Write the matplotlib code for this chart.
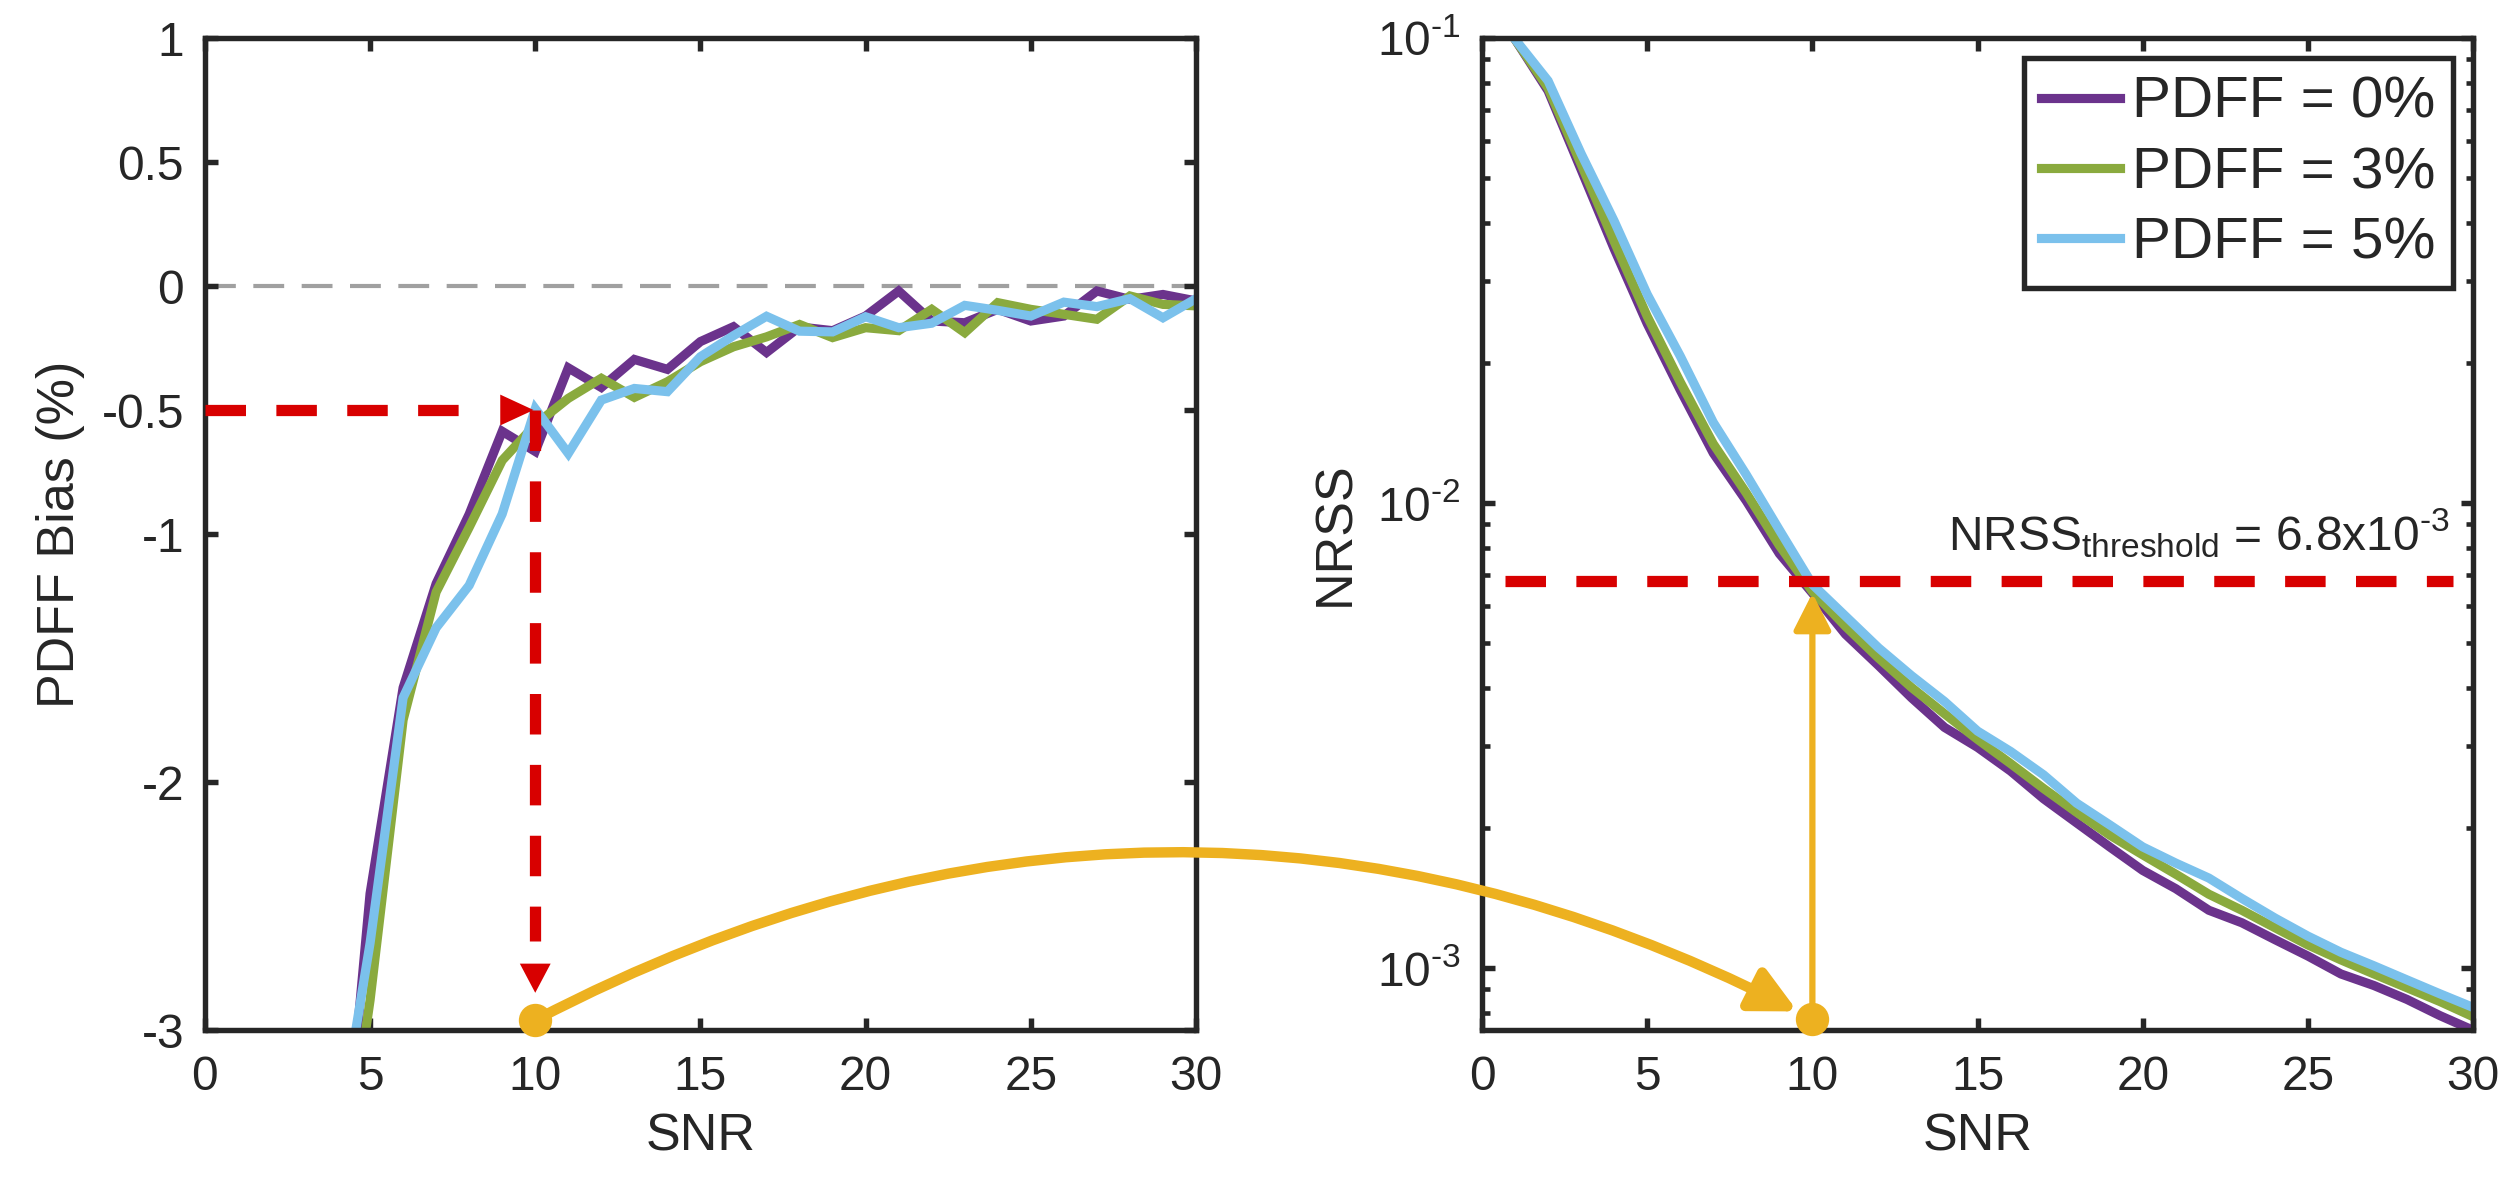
import numpy as np
import matplotlib
matplotlib.use('Agg')
import matplotlib.pyplot as plt
from matplotlib.patches import ConnectionPatch
from matplotlib.ticker import LogLocator, FixedLocator, NullFormatter, FuncFormatter

plt.rcParams['font.family'] = ['Liberation Sans', 'DejaVu Sans']
plt.rcParams['mathtext.fontset'] = 'custom'
plt.rcParams['mathtext.rm'] = 'Liberation Sans'
plt.rcParams['mathtext.it'] = 'Liberation Sans:italic'
plt.rcParams['mathtext.bf'] = 'Liberation Sans:bold'
plt.rcParams['axes.unicode_minus'] = False

dark = '#262626'
plt.rcParams['text.color'] = dark
plt.rcParams['axes.labelcolor'] = dark

# ---- data ----
snr_bias = list(range(4, 31))
bias_0 = [-3.9, -2.45, -1.62, -1.2, -0.92, -0.586, -0.667, -0.33, -0.409, -0.296,
          -0.336, -0.224, -0.164, -0.268, -0.165, -0.18, -0.121, -0.02, -0.141,
          -0.148, -0.094, -0.141, -0.121, -0.02, -0.054, -0.034, -0.06]
bias_3 = [-3.8, -2.88, -1.75, -1.234, -0.973, -0.703, -0.559, -0.453, -0.372, -0.449,
          -0.386, -0.305, -0.245, -0.205, -0.155, -0.208, -0.168, -0.18, -0.094,
          -0.188, -0.067, -0.094, -0.114, -0.134, -0.04, -0.074, -0.08]
bias_5 = [-3.46, -2.65, -1.66, -1.378, -1.207, -0.919, -0.495, -0.675, -0.46, -0.413,
          -0.426, -0.285, -0.2, -0.122, -0.182, -0.185, -0.124, -0.168, -0.15,
          -0.078, -0.098, -0.121, -0.065, -0.083, -0.051, -0.128, -0.051]

snr_nrss = list(range(1, 31))
nrss_0 = [0.0994, 0.077, 0.0521, 0.0352, 0.0243, 0.0175, 0.0128, 0.0101, 0.00778, 0.0064,
          0.00522, 0.00447, 0.00381, 0.00329, 0.00298, 0.00265, 0.00231, 0.00205, 0.00182,
          0.00162, 0.00148, 0.00133, 0.00125, 0.00115, 0.00106, 0.00097, 0.000916,
          0.000855, 0.000789, 0.000734]
nrss_3 = [0.0994, 0.078, 0.0535, 0.0365, 0.0252, 0.0182, 0.0134, 0.0105, 0.0081, 0.00645,
          0.00543, 0.00464, 0.00401, 0.00352, 0.0031, 0.00275, 0.00243, 0.00216, 0.00193,
          0.00175, 0.00159, 0.00144, 0.00133, 0.00122, 0.00112, 0.00104, 0.00097,
          0.000906, 0.000846, 0.000785]
nrss_5 = [0.0994, 0.0809, 0.0564, 0.0404, 0.0281, 0.0207, 0.0149, 0.0115, 0.00875, 0.00668,
          0.00571, 0.00488, 0.00425, 0.00374, 0.00323, 0.00292, 0.0026, 0.00226, 0.00203,
          0.00182, 0.00168, 0.00156, 0.00141, 0.00128, 0.00117, 0.00108, 0.00101,
          0.000942, 0.000879, 0.000822]

series_labels = ['PDFF = 0%', 'PDFF = 3%', 'PDFF = 5%']
series_colors = ['#6B338C', '#8AAA3E', '#7BC1EC']

snr_ticks = [0, 5, 10, 15, 20, 25, 30]
bias_ticks = [-3, -2, -1, -0.5, 0, 0.5, 1]
bias_ticklabels = ['-3', '-2', '-1', '-0.5', '0', '0.5', '1']
nrss_ticks = [1e-3, 1e-2, 1e-1]

snr_pick = 10
bias_limit = -0.5
nrss_threshold = 6.8e-3

red = '#D80000'
yellow = '#EDB120'
HYPH = '\u2010'  # short hyphen, as in the original superscripts

# ---- figure ----
fig = plt.figure(figsize=(8.4, 3.95), dpi=300)
ax1 = fig.add_axes([0.0813, 0.1308, 0.3933, 0.8371])
ax2 = fig.add_axes([0.5881, 0.1308, 0.3933, 0.8371])


def style_axes(ax):
    for sp in ax.spines.values():
        sp.set_linewidth(1.3)
        sp.set_color(dark)
    ax.tick_params(which='major', direction='in', top=True, right=True,
                   length=3.0, width=1.3, colors=dark, labelsize=11.5, pad=5)
    ax.tick_params(which='minor', direction='in', top=False, right=True,
                   length=1.8, width=1.1, colors=dark)
    ax.tick_params(axis='x', which='major', pad=6)


# left: PDFF bias
ax1.plot([0, 30], [0, 0], color='#A0A0A0', lw=1.0, dashes=(7.4, 4.2), zorder=1)
for vals, c, lab in zip([bias_0, bias_3, bias_5], series_colors, series_labels):
    ax1.plot(snr_bias, vals, color=c, lw=2.2, label=lab, solid_joinstyle='miter')
ax1.set_xlim(0, 30)
ax1.set_ylim(-3, 1)
ax1.set_xticks(snr_ticks)
ax1.yaxis.set_major_locator(FixedLocator(bias_ticks))
ax1.set_yticklabels(bias_ticklabels)
ax1.set_xlabel('SNR', fontsize=12.5, labelpad=3)
ax1.set_ylabel('PDFF Bias (%)', fontsize=12.5, labelpad=4)
style_axes(ax1)

# red dashed guides with arrowheads
ax1.plot([0, 8.4], [bias_limit, bias_limit], color=red, lw=2.7,
         dashes=(3.6, 2.7), dash_capstyle='butt', zorder=4)
ax1.annotate('', xy=(snr_pick - 0.05, bias_limit), xytext=(snr_pick - 1.1, bias_limit),
             arrowprops=dict(arrowstyle='-|>,head_length=0.8,head_width=0.37',
                             mutation_scale=10, fc=red, ec=red, lw=0,
                             shrinkA=0, shrinkB=0), zorder=4)
ax1.plot([snr_pick, snr_pick], [bias_limit, -2.64], color=red, lw=2.7,
         dashes=(3.6, 2.7), dash_capstyle='butt', zorder=4)
ax1.annotate('', xy=(snr_pick, -2.85), xytext=(snr_pick, -2.6),
             arrowprops=dict(arrowstyle='-|>,head_length=0.7,head_width=0.37',
                             mutation_scale=10, fc=red, ec=red, lw=0,
                             shrinkA=0, shrinkB=0), zorder=4)
ax1.plot(snr_pick, -2.96, 'o', ms=7, color=yellow, clip_on=False, zorder=6)

# right: NRSS
for vals, c, lab in zip([nrss_0, nrss_3, nrss_5], series_colors, series_labels):
    ax2.plot(snr_nrss, vals, color=c, lw=2.2, label=lab, solid_joinstyle='miter')
ax2.set_yscale('log')
ax2.set_xlim(0, 30)
ax2.set_ylim(7.35e-4, 0.1)
ax2.set_xticks(snr_ticks)
ax2.yaxis.set_major_locator(FixedLocator(nrss_ticks))
ax2.yaxis.set_major_formatter(FuncFormatter(
    lambda v, pos: r'$10^{%s%d}$' % (HYPH, abs(int(round(np.log10(v)))))))
ax2.yaxis.set_minor_locator(LogLocator(base=10, subs=np.arange(2, 10)))
ax2.yaxis.set_minor_formatter(NullFormatter())
ax2.set_xlabel('SNR', fontsize=12.5, labelpad=3)
ax2.set_ylabel('NRSS', fontsize=12.5, labelpad=4)
style_axes(ax2)

ax2.plot([0.7, 29.4], [nrss_threshold, nrss_threshold], color=red, lw=2.7,
         dashes=(3.6, 2.7), dash_capstyle='butt', zorder=4)
ax2.text(29.3, 7.9e-3, r'NRSS$_{\mathrm{threshold}}$ = 6.8x10$^{%s3}$' % HYPH,
         ha='right', va='baseline', fontsize=11.5)

ax2.annotate('', xy=(snr_pick, 6.4e-3), xytext=(snr_pick, 7.76e-4),
             arrowprops=dict(arrowstyle='-|>,head_length=0.75,head_width=0.38',
                             mutation_scale=10, color=yellow, lw=1.5,
                             shrinkA=0, shrinkB=0), zorder=5)
ax2.plot(snr_pick, 7.76e-4, 'o', ms=7, color=yellow, clip_on=False, zorder=6)

leg = ax2.legend(loc='upper right', fontsize=14, frameon=True, fancybox=False,
                 edgecolor=dark, framealpha=1, handlelength=1.35, handletextpad=0.2,
                 borderaxespad=0.35, labelspacing=0.28, borderpad=0.3)
leg.get_frame().set_linewidth(1.3)

# yellow arc linking the two panels
con = ConnectionPatch(xyA=(snr_pick, -2.96), coordsA=ax1.transData,
                      xyB=(snr_pick, 7.76e-4), coordsB=ax2.transData,
                      arrowstyle='-|>,head_length=0.9,head_width=0.45',
                      mutation_scale=10, connectionstyle='arc3,rad=-0.26',
                      color=yellow, lw=2.5, shrinkA=0, shrinkB=4, zorder=6)
fig.add_artist(con)

fig.savefig('out.png', dpi=300)
